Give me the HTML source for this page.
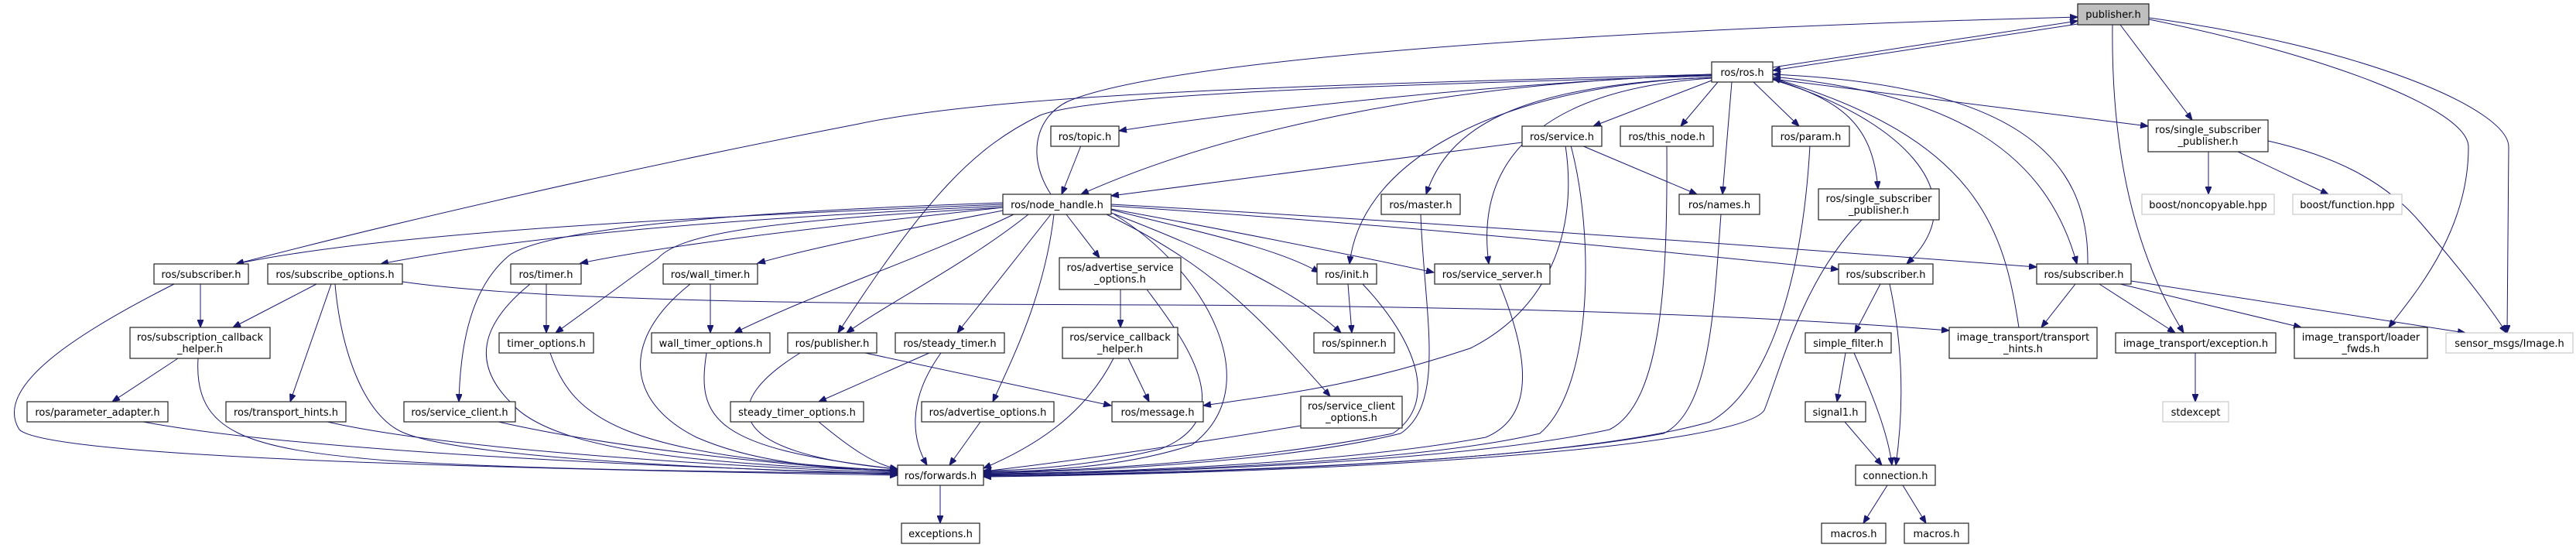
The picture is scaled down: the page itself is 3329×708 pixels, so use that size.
<!DOCTYPE html>
<html><head><meta charset="utf-8"><style>
html,body{margin:0;padding:0;background:#fff}
svg{display:block}
text{font-family:"DejaVu Sans","Liberation Sans",sans-serif;font-size:13px;fill:#000}
.n{fill:#fff;stroke:#222;stroke-width:1.2}
.g{fill:#fff;stroke:#bfbfbf;stroke-width:1}
.p{fill:#bfbfbf;stroke:#222;stroke-width:1.2}
.e path{fill:none;stroke:#191970;stroke-width:1;marker-end:url(#a)}
</style></head><body>
<svg width="3329" height="708" viewBox="0 0 3329 708" xmlns="http://www.w3.org/2000/svg">
<defs><marker id="a" markerUnits="userSpaceOnUse" markerWidth="11" markerHeight="8" refX="10" refY="4" orient="auto"><path d="M0,0 L10,4 L0,8 z" fill="#191970" stroke="#191970"/></marker></defs>
<g class="e">
<path d="M2291,87 L2685,27"/>
<path d="M2685,31 L2291,91"/>
<path d="M1358,251 C1325,200 1340,150 1380,131 C1500,80 2000,40 2685,22"/>
<path d="M2740,32 L2833,155"/>
<path d="M2730,32 C2728,200 2760,330 2822,430"/>
<path d="M2777,25 C3000,70 3190,140 3190,190 C3190,300 3120,380 3087,423"/>
<path d="M2777,23 C3050,60 3242,140 3242,190 L3240,430"/>
<path d="M2212,96 C1700,110 1300,120 1110,160 C800,220 500,290 305,341"/>
<path d="M2212,96 C1900,110 1600,145 1446,169"/>
<path d="M2212,97 C1900,105 1600,160 1397,251"/>
<path d="M2212,98 C1800,110 1420,120 1344,149 C1260,190 1200,250 1083,430"/>
<path d="M2212,104 L2059,163"/>
<path d="M2220,106 L2172,163"/>
<path d="M2238,106 L2226,251"/>
<path d="M2266,106 L2325,163"/>
<path d="M2212,100 C1950,110 1870,170 1843,251"/>
<path d="M2212,100 C1950,110 1760,200 1744,341"/>
<path d="M2212,101 C2000,115 1905,200 1924,341"/>
<path d="M2291,102 C2380,130 2420,160 2427,244"/>
<path d="M2291,103 C2450,150 2560,250 2464,341"/>
<path d="M2291,99 C2500,120 2640,180 2684,341"/>
<path d="M2698,341 C2700,200 2600,110 2291,96"/>
<path d="M2609,423 C2590,300 2560,180 2291,101"/>
<path d="M2291,102 L2776,163"/>
<path d="M1296,264 C900,280 500,300 305,341"/>
<path d="M1296,266 C1000,280 700,300 492,341"/>
<path d="M1296,268 C1100,290 900,310 750,340"/>
<path d="M1296,272 C1150,300 1050,320 979,340"/>
<path d="M1296,268 C1000,285 880,300 850,334 C800,370 760,400 718,430"/>
<path d="M1296,262 C900,275 700,300 658,330 C610,370 595,440 593,519"/>
<path d="M1310,277 C1200,330 1050,380 949,430"/>
<path d="M1329,277 C1250,340 1150,390 1094,430"/>
<path d="M1358,277 L1237,430"/>
<path d="M1362,277 C1350,380 1310,460 1283,519"/>
<path d="M1378,277 L1421,333"/>
<path d="M1436,271 C1550,300 1650,320 1705,352"/>
<path d="M1436,275 C1580,330 1680,380 1733,430"/>
<path d="M1430,277 C1560,340 1620,400 1719,512"/>
<path d="M1436,270 C1600,300 1750,330 1853,352"/>
<path d="M1436,266 C1800,290 2100,320 2376,348"/>
<path d="M1436,264 C1900,290 2300,320 2632,345"/>
<path d="M1440,277 C1560,350 1640,500 1540,575 C1450,605 1330,610 1271,609"/>
<path d="M1967,184 L1436,253"/>
<path d="M1397,188 L1372,251"/>
<path d="M2044,188 L2193,251"/>
<path d="M2023,188 C2040,300 2000,400 1900,450 C1750,500 1650,510 1555,524"/>
<path d="M520,364 C700,390 1100,393 1500,394 C2000,396 2300,410 2519,427"/>
<path d="M1118,456 L1436,524"/>
<path d="M1742,367 L1747,430"/>
<path d="M1448,374 L1448,423"/>
<path d="M1458,463 L1485,519"/>
<path d="M1201,456 L1058,519"/>
<path d="M259,367 L259,423"/>
<path d="M409,367 L301,423"/>
<path d="M428,367 L375,519"/>
<path d="M230,463 L145,519"/>
<path d="M706,367 L706,430"/>
<path d="M918,367 L918,430"/>
<path d="M1215,627 L1215,676"/>
<path d="M2430,367 L2397,430"/>
<path d="M2442,367 C2460,450 2460,530 2450,601"/>
<path d="M2385,456 L2374,519"/>
<path d="M2396,456 C2420,510 2440,560 2445,601"/>
<path d="M2384,545 L2432,601"/>
<path d="M2439,627 L2408,676"/>
<path d="M2459,627 L2489,676"/>
<path d="M2682,367 L2638,423"/>
<path d="M2713,367 L2811,430"/>
<path d="M2740,367 L2974,423"/>
<path d="M2754,363 L3186,430"/>
<path d="M2854,196 L2854,251"/>
<path d="M2892,196 L3009,251"/>
<path d="M2931,182 C3010,200 3080,230 3130,290 C3190,360 3220,400 3239,430"/>
<path d="M2837,456 L2837,519"/>
<path d="M225,367 C100,430 -10,500 25,555 C60,590 600,605 1160,614"/>
<path d="M433,367 C440,450 470,540 524,560 C600,590 900,605 1160,613"/>
<path d="M256,463 C250,560 320,580 500,595 C700,608 1000,610 1160,612"/>
<path d="M185,545 C400,585 900,605 1160,612"/>
<path d="M423,545 C600,585 1000,605 1160,611"/>
<path d="M644,545 C800,580 1000,600 1160,610"/>
<path d="M685,367 C620,420 610,470 660,520 C720,590 950,600 1160,609"/>
<path d="M711,456 C740,540 800,590 1160,608"/>
<path d="M892,367 C800,440 810,520 900,565 C980,600 1080,606 1160,607"/>
<path d="M913,456 C900,540 920,580 1160,606"/>
<path d="M1034,456 C930,520 930,585 1160,606"/>
<path d="M1058,545 C1100,580 1130,600 1160,606"/>
<path d="M1216,456 C1170,520 1180,570 1198,601"/>
<path d="M1267,545 L1227,601"/>
<path d="M1439,463 C1400,540 1330,580 1271,605"/>
<path d="M1482,374 C1540,450 1600,540 1500,580 C1420,600 1330,608 1271,608"/>
<path d="M1681,550 C1500,580 1350,600 1271,609"/>
<path d="M1761,367 C1830,440 1860,520 1800,560 C1600,600 1350,610 1271,610"/>
<path d="M1836,277 C1840,400 1870,520 1810,560 C1650,600 1350,611 1271,611"/>
<path d="M1938,367 C1980,470 1980,540 1920,565 C1700,605 1350,612 1271,612"/>
<path d="M2030,188 C2060,300 2060,500 1990,560 C1800,605 1350,612 1271,612"/>
<path d="M2154,188 C2155,350 2150,520 2080,555 C1850,605 1350,613 1271,613"/>
<path d="M2224,277 C2215,400 2210,530 2150,560 C1900,607 1350,614 1271,614"/>
<path d="M2339,188 C2330,350 2290,500 2210,545 C2000,605 1400,614 1271,615"/>
<path d="M2406,284 C2330,360 2300,480 2280,530 C2250,575 1800,610 1271,616"/>
</g>
<g>
<rect class="p" x="2685" y="5" width="92" height="27"/><text x="2731" y="23" text-anchor="middle">publisher.h</text>
<rect class="n" x="2212" y="80" width="79" height="26"/><text x="2251.5" y="98" text-anchor="middle">ros/ros.h</text>
<rect class="n" x="1358" y="163" width="88" height="26"/><text x="1402" y="181" text-anchor="middle">ros/topic.h</text>
<rect class="n" x="1967" y="163" width="103" height="26"/><text x="2018.5" y="181" text-anchor="middle">ros/service.h</text>
<rect class="n" x="2094" y="163" width="120" height="26"/><text x="2154" y="181" text-anchor="middle">ros/this_node.h</text>
<rect class="n" x="2290" y="163" width="100" height="26"/><text x="2340" y="181" text-anchor="middle">ros/param.h</text>
<rect class="n" x="2776" y="155" width="155" height="41"/><text x="2853.5" y="172" text-anchor="middle">ros/single_subscriber</text><text x="2853.5" y="187" text-anchor="middle">_publisher.h</text>
<rect class="n" x="1296" y="251" width="140" height="26"/><text x="1366" y="269" text-anchor="middle">ros/node_handle.h</text>
<rect class="n" x="1785" y="251" width="102" height="26"/><text x="1836" y="269" text-anchor="middle">ros/master.h</text>
<rect class="n" x="2170" y="251" width="104" height="26"/><text x="2222" y="269" text-anchor="middle">ros/names.h</text>
<rect class="n" x="2350" y="244" width="156" height="40"/><text x="2428" y="261" text-anchor="middle">ros/single_subscriber</text><text x="2428" y="276" text-anchor="middle">_publisher.h</text>
<rect class="g" x="2768" y="251" width="171" height="26"/><text x="2853.5" y="269" text-anchor="middle">boost/noncopyable.hpp</text>
<rect class="g" x="2963" y="251" width="141" height="26"/><text x="3033.5" y="269" text-anchor="middle">boost/function.hpp</text>
<rect class="n" x="199" y="341" width="122" height="26"/><text x="260" y="359" text-anchor="middle">ros/subscriber.h</text>
<rect class="n" x="346" y="341" width="174" height="26"/><text x="433" y="359" text-anchor="middle">ros/subscribe_options.h</text>
<rect class="n" x="660" y="341" width="91" height="26"/><text x="705.5" y="359" text-anchor="middle">ros/timer.h</text>
<rect class="n" x="857" y="341" width="122" height="26"/><text x="918" y="359" text-anchor="middle">ros/wall_timer.h</text>
<rect class="n" x="1369" y="333" width="157" height="41"/><text x="1447.5" y="350" text-anchor="middle">ros/advertise_service</text><text x="1447.5" y="365" text-anchor="middle">_options.h</text>
<rect class="n" x="1702" y="341" width="77" height="26"/><text x="1740.5" y="359" text-anchor="middle">ros/init.h</text>
<rect class="n" x="1854" y="341" width="149" height="26"/><text x="1928.5" y="359" text-anchor="middle">ros/service_server.h</text>
<rect class="n" x="2376" y="341" width="122" height="26"/><text x="2437" y="359" text-anchor="middle">ros/subscriber.h</text>
<rect class="n" x="2632" y="341" width="122" height="26"/><text x="2693" y="359" text-anchor="middle">ros/subscriber.h</text>
<rect class="n" x="168" y="423" width="181" height="40"/><text x="258.5" y="440" text-anchor="middle">ros/subscription_callback</text><text x="258.5" y="455" text-anchor="middle">_helper.h</text>
<rect class="n" x="645" y="430" width="122" height="26"/><text x="706" y="448" text-anchor="middle">timer_options.h</text>
<rect class="n" x="842" y="430" width="153" height="26"/><text x="918.5" y="448" text-anchor="middle">wall_timer_options.h</text>
<rect class="n" x="1018" y="430" width="115" height="26"/><text x="1075.5" y="448" text-anchor="middle">ros/publisher.h</text>
<rect class="n" x="1157" y="430" width="141" height="26"/><text x="1227.5" y="448" text-anchor="middle">ros/steady_timer.h</text>
<rect class="n" x="1373" y="423" width="149" height="40"/><text x="1447.5" y="440" text-anchor="middle">ros/service_callback</text><text x="1447.5" y="455" text-anchor="middle">_helper.h</text>
<rect class="n" x="1698" y="430" width="104" height="26"/><text x="1750" y="448" text-anchor="middle">ros/spinner.h</text>
<rect class="n" x="2333" y="430" width="111" height="26"/><text x="2388.5" y="448" text-anchor="middle">simple_filter.h</text>
<rect class="n" x="2519" y="423" width="191" height="40"/><text x="2614.5" y="440" text-anchor="middle">image_transport/transport</text><text x="2614.5" y="455" text-anchor="middle">_hints.h</text>
<rect class="n" x="2734" y="430" width="207" height="26"/><text x="2837.5" y="448" text-anchor="middle">image_transport/exception.h</text>
<rect class="n" x="2965" y="423" width="172" height="40"/><text x="3051" y="440" text-anchor="middle">image_transport/loader</text><text x="3051" y="455" text-anchor="middle">_fwds.h</text>
<rect class="g" x="3161" y="430" width="164" height="26"/><text x="3243" y="448" text-anchor="middle">sensor_msgs/Image.h</text>
<rect class="n" x="35" y="519" width="182" height="26"/><text x="126" y="537" text-anchor="middle">ros/parameter_adapter.h</text>
<rect class="n" x="292" y="519" width="155" height="26"/><text x="369.5" y="537" text-anchor="middle">ros/transport_hints.h</text>
<rect class="n" x="522" y="519" width="144" height="26"/><text x="594" y="537" text-anchor="middle">ros/service_client.h</text>
<rect class="n" x="944" y="519" width="172" height="26"/><text x="1030" y="537" text-anchor="middle">steady_timer_options.h</text>
<rect class="n" x="1191" y="519" width="171" height="26"/><text x="1276.5" y="537" text-anchor="middle">ros/advertise_options.h</text>
<rect class="n" x="1437" y="519" width="118" height="26"/><text x="1496" y="537" text-anchor="middle">ros/message.h</text>
<rect class="n" x="1681" y="512" width="131" height="41"/><text x="1746.5" y="529" text-anchor="middle">ros/service_client</text><text x="1746.5" y="544" text-anchor="middle">_options.h</text>
<rect class="n" x="2333" y="519" width="78" height="26"/><text x="2372" y="537" text-anchor="middle">signal1.h</text>
<rect class="g" x="2795" y="519" width="85" height="26"/><text x="2837.5" y="537" text-anchor="middle">stdexcept</text>
<rect class="n" x="1160" y="601" width="111" height="26"/><text x="1215.5" y="619" text-anchor="middle">ros/forwards.h</text>
<rect class="n" x="2398" y="601" width="103" height="26"/><text x="2449.5" y="619" text-anchor="middle">connection.h</text>
<rect class="n" x="1165" y="676" width="101" height="26"/><text x="1215.5" y="694" text-anchor="middle">exceptions.h</text>
<rect class="n" x="2354" y="676" width="83" height="26"/><text x="2395.5" y="694" text-anchor="middle">macros.h</text>
<rect class="n" x="2461" y="676" width="83" height="26"/><text x="2502.5" y="694" text-anchor="middle">macros.h</text>
</g>
</svg>
</body></html>
